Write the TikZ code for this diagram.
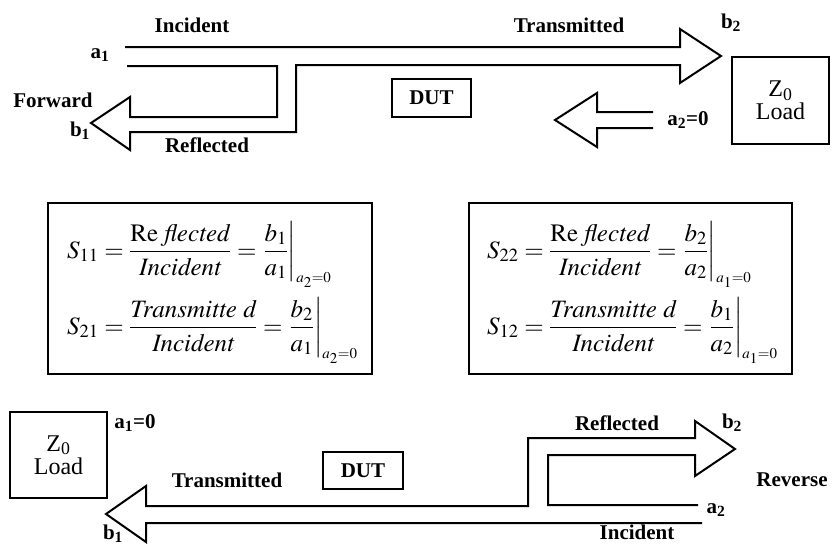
\documentclass[tikz,border=0pt]{standalone}
\usepackage{amsmath}
\usepackage{mathptmx}
\usepackage[no-math]{fontspec}
\setmainfont{Liberation Serif}

\begin{document}
\begin{tikzpicture}[x=1pt,y=-1pt,
	pipe/.style={line width=2pt,line join=miter},
	lbl/.style={font=\fontsize{21}{24}\selectfont\bfseries,inner sep=0pt},
	blk/.style={draw,line width=2pt,inner sep=0pt},
	eqn/.style={font=\fontsize{25}{28}\selectfont,anchor=base west,inner sep=0pt}]
	\useasboundingbox (0,0) rectangle (832,546);
	% forward measurement
	\draw[pipe] (127,66) -- (277,66) -- (277,117) -- (130,117) -- (130,97) -- (91,123)
		-- (130,150) -- (130,132) -- (296,132) -- (296,65) -- (680,65) -- (680,83)
		-- (721,56) -- (680,29) -- (680,47) -- (125,47);
	\draw[pipe] (653,112) -- (597,112) -- (597,93) -- (555,120) -- (597,147) -- (597,128) -- (653,128);
	\node[lbl] (inc1) at (192,25) {Incident};
	\node[lbl] (tra1) at (569,25) {Transmitted};
	\node[lbl] (a1) at (100,55) {a\textsubscript{1}};
	\node[lbl] (b1) at (80,131) {b\textsubscript{1}};
	\node[lbl] (fwd) at (53,100) {Forward};
	\node[lbl] (ref1) at (207,145) {Reflected};
	\node[lbl] (b2) at (731,23) {b\textsubscript{2}};
	\node[lbl] (a2) at (688,120) {a\textsubscript{2}=0};
	\node[blk,lbl,minimum width=79pt,minimum height=38pt] (dut1) at (431.5,98) {DUT};
	\node[blk,minimum width=97pt,minimum height=87pt,align=center,
		font=\fontsize{24}{23}\selectfont] (load1) at (780.5,100.5) {Z\textsubscript{0}\\Load};
	% S-parameter definitions
	\node[blk,minimum width=324pt,minimum height=171pt] (eqL) at (210,288.5) {};
	\node[blk,minimum width=323pt,minimum height=171pt] (eqR) at (630.5,288.5) {};
	\node[eqn] (s11) at (67,258) {$\displaystyle S_{11}=\frac{\mathrm{Re}\ \mathit{flected}}{\mathit{Incident}}=\left.\frac{b_1}{a_1}\right|_{\scriptscriptstyle a_2=0}$};
	\node[eqn] (s21) at (67,334) {$\displaystyle S_{21}=\frac{\mathit{Transmitte\ d}}{\mathit{Incident}}=\left.\frac{b_2}{a_1}\right|_{\scriptscriptstyle a_2=0}$};
	\node[eqn] (s22) at (487,258) {$\displaystyle S_{22}=\frac{\mathrm{Re}\ \mathit{flected}}{\mathit{Incident}}=\left.\frac{b_2}{a_2}\right|_{\scriptscriptstyle a_1=0}$};
	\node[eqn] (s12) at (487,334) {$\displaystyle S_{12}=\frac{\mathit{Transmitte\ d}}{\mathit{Incident}}=\left.\frac{b_1}{a_2}\right|_{\scriptscriptstyle a_1=0}$};
	% reverse measurement
	\draw[pipe] (702,523) -- (146,523) -- (146,542) -- (106,514) -- (146,486) -- (146,506)
		-- (528,506) -- (528,438) -- (695,438) -- (695,421) -- (735,449) -- (695,476)
		-- (695,455) -- (548,455) -- (548,505) -- (698,505);
	\node[blk,minimum width=97pt,minimum height=86pt,align=center,
		font=\fontsize{24}{23}\selectfont] (load2) at (58.5,455) {Z\textsubscript{0}\\Load};
	\node[blk,lbl,minimum width=80pt,minimum height=37pt] (dut2) at (363,470.5) {DUT};
	\node[lbl] (a1r) at (135,423) {a\textsubscript{1}=0};
	\node[lbl] (tra2) at (227,480) {Transmitted};
	\node[lbl] (ref2) at (617,423) {Reflected};
	\node[lbl] (b2r) at (732,423) {b\textsubscript{2}};
	\node[lbl] (rev) at (792,480) {Reverse};
	\node[lbl] (a2r) at (716,510) {a\textsubscript{2}};
	\node[lbl] (inc2) at (637,532) {Incident};
	\node[lbl] (b1r) at (113,534) {b\textsubscript{1}};
\end{tikzpicture}
\end{document}
